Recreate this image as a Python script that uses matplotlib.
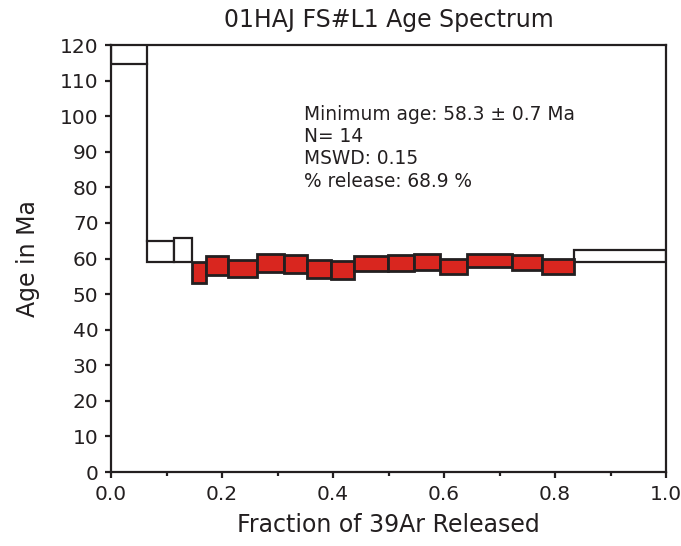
import matplotlib
matplotlib.use("Agg")
import matplotlib.pyplot as plt
import numpy as np
from matplotlib.ticker import MultipleLocator, FormatStrFormatter

plt.rcParams['font.family'] = ['DejaVu Sans']

# cumulative 39Ar fraction at step edges
frac_edges = [0.0, 0.0654, 0.113, 0.1465, 0.172, 0.211, 0.2636, 0.3117, 0.3537,
              0.3958, 0.4384, 0.4985, 0.5465, 0.5928, 0.641, 0.7226, 0.776,
              0.8342, 1.0]
# age box bottom / top (Ma)
age_lo = [114.7, 59.1, 59.1, 53.0, 55.4, 54.7, 56.1, 55.8, 54.4, 54.2, 56.6,
          56.5, 56.8, 55.6, 57.7, 56.8, 55.6, 59.1]
age_hi = [128.0, 64.8, 65.7, 59.1, 60.7, 59.6, 61.4, 61.0, 59.6, 59.2, 60.7,
          60.9, 61.4, 59.9, 61.2, 61.1, 59.9, 62.3]
plateau = [False, False, False] + [True] * 14 + [False]

title = "01HAJ FS#L1 Age Spectrum"
info = ["Minimum age: 58.3 \u00b1 0.7 Ma", "N= 14", "MSWD: 0.15",
        "% release: 68.9 %"]

dark = "#231f20"
red = "#d9261f"

fig = plt.figure(figsize=(6.81, 5.46), dpi=100)
ax = fig.add_axes([0.163, 0.1355, 0.815, 0.782])

x0 = np.array(frac_edges[:-1])
w = np.diff(frac_edges)
lo = np.array(age_lo)
hi = np.array(age_hi)

for i in range(len(w)):
    if plateau[i]:
        ax.bar(x0[i], hi[i] - lo[i], width=w[i], bottom=lo[i], align='edge',
               facecolor=red, edgecolor=dark, linewidth=2.0, zorder=3)
    else:
        ax.bar(x0[i], hi[i] - lo[i], width=w[i], bottom=lo[i], align='edge',
               facecolor='white', edgecolor=dark, linewidth=1.6, zorder=2)

# connect steps where boxes do not overlap
for i in range(len(w) - 1):
    xe = frac_edges[i + 1]
    if lo[i] > hi[i + 1]:
        ax.plot([xe, xe], [hi[i + 1], lo[i]], color=dark, lw=1.6, zorder=2)
    elif lo[i + 1] > hi[i]:
        ax.plot([xe, xe], [hi[i], lo[i + 1]], color=dark, lw=1.6, zorder=2)

ax.set_xlim(0, 1)
ax.set_ylim(0, 120)
ax.xaxis.set_major_locator(MultipleLocator(0.2))
ax.xaxis.set_minor_locator(MultipleLocator(0.1))
ax.yaxis.set_major_locator(MultipleLocator(10))
ax.xaxis.set_major_formatter(FormatStrFormatter('%.1f'))

for s in ax.spines.values():
    s.set_linewidth(1.6)
    s.set_color(dark)
    s.set_zorder(5)

ax.tick_params(axis='both', which='major', direction='out', length=4, width=1.6,
               labelsize=14.5, colors=dark, pad=5)
ax.tick_params(axis='x', which='minor', direction='out', length=3, width=1.6,
               colors=dark)

ax.set_title(title, fontsize=17, color=dark, pad=13)
ax.set_xlabel("Fraction of 39Ar Released", fontsize=17, color=dark, labelpad=7)
ax.set_ylabel("Age in Ma", fontsize=17, color=dark, labelpad=14)

ax.text(0.348, 0.86, "\n".join(info), transform=ax.transAxes, fontsize=13.4,
        color=dark, va='top', ha='left', linespacing=1.22)

fig.savefig("out.png", dpi=100)
